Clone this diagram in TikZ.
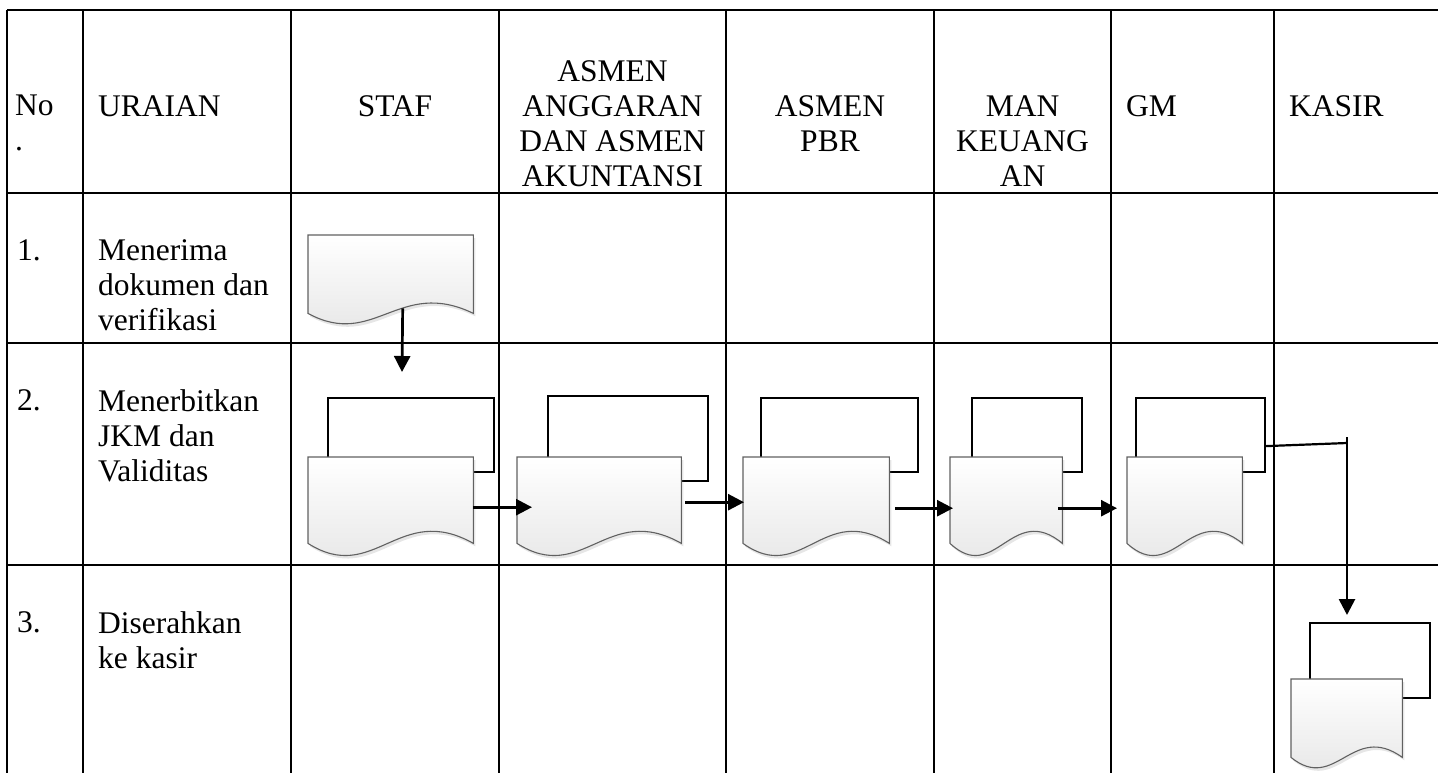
\documentclass[tikz,border=0pt]{standalone}
\usepackage{fontspec}
\setmainfont{Liberation Serif}
\usetikzlibrary{calc,arrows.meta,shadows}

\newcommand\cellfont{\fontsize{31.5}{35}\selectfont}

% paper sheet with a wavy lower edge, drawn over an (invisible) rectangle node
\newcommand\paperdoc[2]{%
  \path[docline] (#1.north west) -- (#1.north east) -- (#1.south east)
    .. controls ($(#1.south west)!0.55!(#1.south east)+(0,-#2)$)
       and ($(#1.south west)!0.40!(#1.south east)+(0,#2)$) .. (#1.south west)
    -- cycle;}

\tikzset{
  grid/.style={line width=2.9pt},
  backsheet/.style={draw=black, line width=2.2pt, fill=white, inner sep=0pt,
    anchor=north west},
  frontsheet/.style={inner sep=0pt, anchor=north west},
  docline/.style={draw=black!62, line width=1.1pt, top color=white,
    bottom color=black!11,
    drop shadow={shadow xshift=2pt, shadow yshift=-3pt, opacity=0.22,
      fill=black!45}},
  conn/.style={line width=2.7pt, -{Triangle[length=16pt,width=16pt]}},
  link/.style={line width=2.2pt},
  cell/.style={font=\cellfont, inner sep=0pt, align=left, anchor=north west},
  headc/.style={font=\cellfont, inner sep=0pt, align=center, anchor=north},
}

\begin{document}
\begin{tikzpicture}[x=1pt,y=-1pt]
\useasboundingbox (0,0) rectangle (1438,772);

% ---- table grid
\foreach \yy in {10,193,343,565}
  \draw[grid] (7,\yy) -- (1442,\yy);
\foreach \xx in {7,83,291,499,726,934,1111,1274}
  \draw[grid] (\xx,10) -- (\xx,776);

% ---- header row
\node[cell] (hNo) at (15,95) {No\\.};
\node[cell] (hUraian) at (98,95) {URAIAN};
\node[headc] (hStaf) at (395,95) {STAF};
\node[headc] (hAngg) at (612.5,60) {ASMEN\\ANGGARAN\\DAN ASMEN\\AKUNTANSI};
\node[headc] (hPbr) at (830,95) {ASMEN\\PBR};
\node[headc] (hMan) at (1022.5,95) {MAN\\KEUANG\\AN};
\node[cell] (hGm) at (1126,95) {GM};
\node[cell] (hKasir) at (1289,95) {KASIR};

% ---- step descriptions
\node[cell] (n1) at (17,239) {1.};
\node[cell] (u1) at (98,239) {Menerima\\dokumen dan\\verifikasi};
\node[cell] (n2) at (17,389) {2.};
\node[cell] (u2) at (98,389) {Menerbitkan\\JKM dan\\Validitas};
\node[cell] (n3) at (17,611) {3.};
\node[cell] (u3) at (98,611) {Diserahkan\\ke kasir};

% ---- step 1: incoming document
\node[frontsheet, minimum width=165pt, minimum height=78pt] (staf1) at (308,235) {};
\paperdoc{staf1}{36}

% ---- step 2: copies passed along the chain
\node[backsheet, minimum width=166pt, minimum height=74pt] (stafb) at (327,397) {};
\node[frontsheet, minimum width=165pt, minimum height=86pt] (staf2) at (308,457) {};
\paperdoc{staf2}{42}

\node[backsheet, minimum width=160pt, minimum height=85pt] (anggb) at (547,395) {};
\node[frontsheet, minimum width=164pt, minimum height=86pt] (angg2) at (517,457) {};
\paperdoc{angg2}{42}

\node[backsheet, minimum width=157pt, minimum height=74pt] (pbrb) at (760,397) {};
\node[frontsheet, minimum width=146pt, minimum height=86pt] (pbr2) at (743,457) {};
\paperdoc{pbr2}{42}

\node[backsheet, minimum width=110pt, minimum height=74pt] (manb) at (971,397) {};
\node[frontsheet, minimum width=112pt, minimum height=86pt] (man2) at (950,457) {};
\paperdoc{man2}{42}

\node[backsheet, minimum width=129pt, minimum height=74pt] (gmb) at (1135,397) {};
\node[frontsheet, minimum width=115pt, minimum height=86pt] (gm2) at (1127,457) {};
\paperdoc{gm2}{42}

% ---- step 3: cashier
\node[backsheet, minimum width=120pt, minimum height=75pt] (kasirb) at (1309,622) {};
\node[frontsheet, minimum width=111pt, minimum height=78pt] (kasir3) at (1291,679) {};
\paperdoc{kasir3}{36}

% ---- connectors
\coordinate (r1end) at (402,372);
\draw[conn] ($(staf1.south)+(12,-5)$) -- (r1end);

\draw[conn] ($(staf2.east)+(0,7)$) -- ($(angg2.west)+(15,7)$);
\draw[conn] ($(angg2.east)+(4,2)$) -- ($(pbr2.west)+(1,2)$);
\draw[conn] ($(pbr2.east)+(6,8)$) -- ($(man2.west)+(3,8)$);
\draw[conn] ($(man2.east)+(-4,8)$) -- ($(gm2.west)+(-10,8)$);

\coordinate (bend) at (1347,443);
\coordinate (drop) at (1347,437);
\draw[link] ($(gmb.east)+(0,11)$) -- (bend);
\draw[conn] (drop) -- ($(kasirb.north -| drop)+(0,-7)$);
\end{tikzpicture}
\end{document}
